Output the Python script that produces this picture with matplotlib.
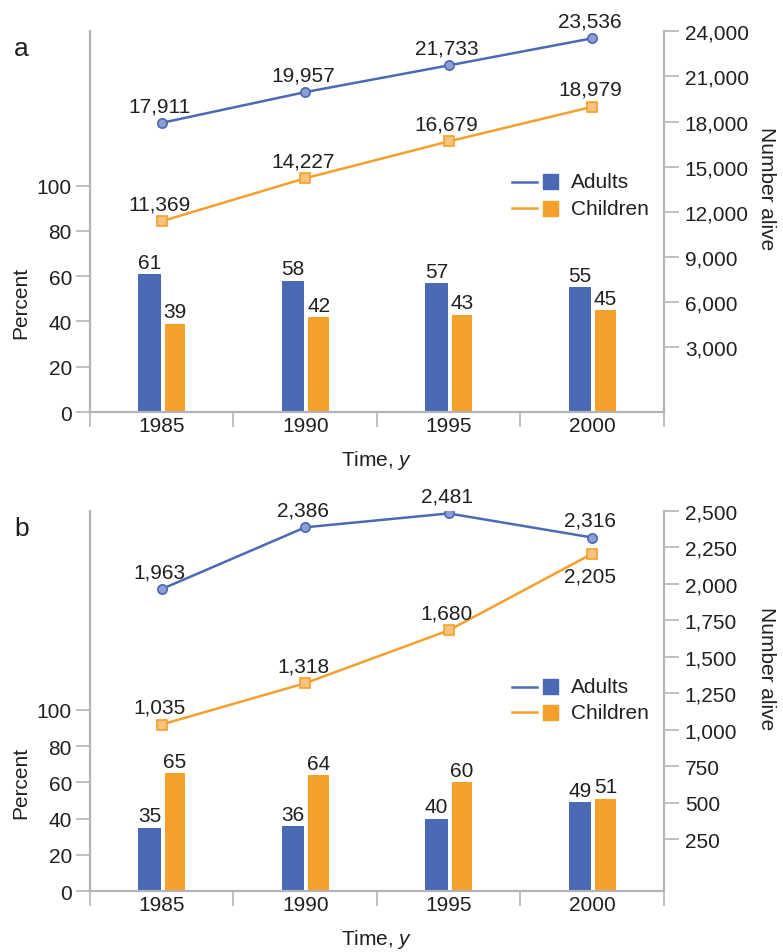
import matplotlib
matplotlib.use("Agg")
import matplotlib.pyplot as plt
from matplotlib.patches import Rectangle

plt.rcParams["font.family"] = ["Liberation Sans", "DejaVu Sans"]
plt.rcParams["mathtext.fontset"] = "custom"
plt.rcParams["mathtext.it"] = "Liberation Sans:italic"
plt.rcParams["mathtext.rm"] = "Liberation Sans"

YEARS = ["1985", "1990", "1995", "2000"]

# panel a
A_ADULT_PCT = [61, 58, 57, 55]
A_CHILD_PCT = [39, 42, 43, 45]
A_ADULT_N = [17911, 19957, 21733, 23536]
A_CHILD_N = [11369, 14227, 16679, 18979]
A_RIGHT_TICKS = [3000, 6000, 9000, 12000, 15000, 18000, 21000, 24000]

# panel b
B_ADULT_PCT = [35, 36, 40, 49]
B_CHILD_PCT = [65, 64, 60, 51]
B_ADULT_N = [1963, 2386, 2481, 2316]
B_CHILD_N = [1035, 1318, 1680, 2205]
B_RIGHT_TICKS = [250, 500, 750, 1000, 1250, 1500, 1750, 2000, 2250, 2500]

PCT_TICKS = [0, 20, 40, 60, 80, 100]

BLUE = "#4a6ab5"
ORANGE = "#f6a02c"
BLUE_FACE = "#8c9ed4"
ORANGE_FACE = "#f9c27d"
SPINE = "#b4b4b4"
INK = "#231f20"
FS = 15


def panel(fig, rect, letter, adult_pct, child_pct, adult_n, child_n,
          pct_top, right_lim, right_ticks, child_below):
    ax = fig.add_axes(rect)
    ax2 = ax.twinx()
    x = list(range(len(YEARS)))

    ax.bar([i - 0.165 for i in x], adult_pct, width=0.158, align="edge", color=BLUE)
    ax.bar([i + 0.021 for i in x], child_pct, width=0.144, align="edge", color=ORANGE)
    for i in x:
        ax.annotate(f"{adult_pct[i]}", (i - 0.165 + 0.079, adult_pct[i]), xytext=(0, 4.5),
                    textcoords="offset points", ha="center", va="baseline", fontsize=FS, color=INK)
        ax.annotate(f"{child_pct[i]}", (i + 0.021 + 0.072, child_pct[i]), xytext=(0, 4.5),
                    textcoords="offset points", ha="center", va="baseline", fontsize=FS, color=INK)

    ax2.plot(x, adult_n, color=BLUE, lw=1.8, marker="o", ms=6.7,
             mfc=BLUE_FACE, mec=BLUE, mew=1.2, zorder=3)
    ax2.plot(x, child_n, color=ORANGE, lw=1.8, marker="s", ms=6.8,
             mfc=ORANGE_FACE, mec=ORANGE, mew=1.2, zorder=3)
    for i in x:
        ax2.annotate(f"{adult_n[i]:,}", (i, adult_n[i]), xytext=(-1.5, 8.5),
                     textcoords="offset points", ha="center", va="baseline", fontsize=FS, color=INK)
        dy = -20 if (child_below and i == x[-1]) else 8.5
        ax2.annotate(f"{child_n[i]:,}", (i, child_n[i]), xytext=(-1.5, dy),
                     textcoords="offset points", ha="center", va="baseline", fontsize=FS, color=INK)

    ax.set_xlim(-0.5, len(YEARS) - 0.5)
    ax.set_ylim(0, pct_top)
    ax2.set_ylim(*right_lim)

    # boundary ticks below the axis, year labels centred between them
    ax.set_xticks([i - 0.5 for i in range(len(YEARS) + 1)])
    ax.set_xticklabels([])
    ax.set_xticks(x, minor=True)
    ax.set_xticklabels(YEARS, minor=True)
    ax.tick_params(axis="x", which="major", length=10.5, width=1.2, color=SPINE)
    ax.tick_params(axis="x", which="minor", length=0, pad=3, labelsize=FS, labelcolor=INK)

    ax.set_yticks(PCT_TICKS)
    ax.tick_params(axis="y", length=10, width=1.2, color=SPINE, pad=3,
                   labelsize=FS, labelcolor=INK)
    ax2.set_yticks(right_ticks)
    ax2.set_yticklabels([f"{t:,}" for t in right_ticks])
    ax2.tick_params(axis="y", length=11, width=1.2, color=SPINE, pad=4,
                    labelsize=FS, labelcolor=INK)

    for a in (ax, ax2):
        a.spines["top"].set_visible(False)
        for s in ("left", "right", "bottom"):
            a.spines[s].set_color(SPINE)
            a.spines[s].set_linewidth(1.5)

    ax.text(-0.121, 0.288, "Percent", transform=ax.transAxes, rotation=90,
            ha="center", va="center", fontsize=FS, color=INK)
    ax.text(1.179, 0.588, "Number alive", transform=ax.transAxes, rotation=270,
            ha="center", va="center", fontsize=FS, color=INK)
    ax.text(0.5, -0.138, "Time, $\\mathit{y}$", transform=ax.transAxes,
            ha="center", va="baseline", fontsize=FS, color=INK)
    ax.text(-0.119, 0.955, letter, transform=ax.transAxes, ha="center", va="center",
            fontsize=19, color=INK)

    # legend: line segment + colour square per series
    ly = [0.604, 0.535] if letter == "a" else [0.537, 0.471]
    for y, col, name in zip(ly, (BLUE, ORANGE), ("Adults", "Children")):
        ax2.plot([0.735, 0.779], [y, y], transform=ax.transAxes, color=col, lw=1.8,
                 clip_on=False)
        ax2.add_patch(Rectangle((0.789, y - 0.0197), 0.0261, 0.0394,
                                transform=ax.transAxes, color=col, clip_on=False))
        ax2.text(0.838, y, name, transform=ax.transAxes, ha="left", va="center",
                 fontsize=FS, color=INK)
    return ax, ax2


fig = plt.figure(figsize=(7.83, 9.53), dpi=100)
panel(fig, [0.1149, 0.5666, 0.7331, 0.3998], "a", A_ADULT_PCT, A_CHILD_PCT,
      A_ADULT_N, A_CHILD_N, 168.2, (-1324, 24020), A_RIGHT_TICKS, False)
panel(fig, [0.1149, 0.0637, 0.7331, 0.3994], "b", B_ADULT_PCT, B_CHILD_PCT,
      B_ADULT_N, B_CHILD_N, 209.6, (-107.6, 2495), B_RIGHT_TICKS, True)
fig.savefig("out.png", dpi=100)
